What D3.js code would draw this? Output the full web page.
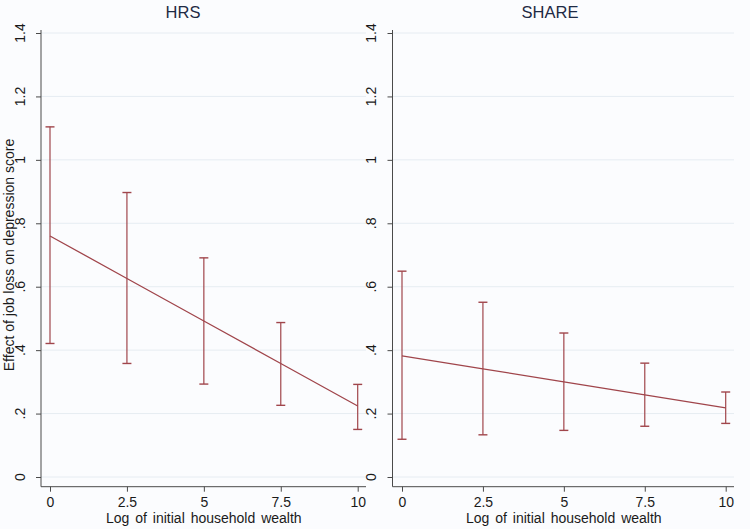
<!DOCTYPE html>
<html><head><meta charset="utf-8">
<script src="https://cdn.jsdelivr.net/npm/d3@7/dist/d3.min.js"></script>
<style>body{margin:0;background:#fbfcfe;}svg{display:block;font-family:"Liberation Sans",Arial,sans-serif;}</style>
</head><body>
<svg id="c" width="750" height="529"></svg>
<script>
const wealth = [0, 2.5, 5, 7.5, 10];
const xTicks = [0, 2.5, 5, 7.5, 10];
const yTicks = [0, 0.2, 0.4, 0.6, 0.8, 1.0, 1.2, 1.4];
const hrsEst = [0.760, 0.626, 0.492, 0.358, 0.224];
const hrsHi  = [1.104, 0.897, 0.691, 0.487, 0.292];
const hrsLo  = [0.421, 0.358, 0.293, 0.226, 0.150];
const shareEst = [0.382, 0.341, 0.300, 0.259, 0.218];
const shareHi  = [0.649, 0.551, 0.454, 0.359, 0.268];
const shareLo  = [0.119, 0.133, 0.147, 0.160, 0.169];
const panelTitles = ["HRS", "SHARE"];
const yTitle = "Effect of job loss on depression score";
const xTitle = "Log of initial household wealth";

const svg = d3.select("#c");
const col = "#a0454b";
const panels = [
  {title: panelTitles[0], est: hrsEst, hi: hrsHi, lo: hrsLo, axisX: 41, x0: 50, x1: 357.7, right: 366, labX: 25, tx: 183},
  {title: panelTitles[1], est: shareEst, hi: shareHi, lo: shareLo, axisX: 392.5, x0: 402, x1: 725.7, right: 734, labX: 376, tx: 550}
];
const y = d3.scaleLinear().domain([0, 1.4]).range([477, 33]);
const fmt = v => v === 0 ? "0" : (v < 1 ? d3.format(".1f")(v).replace(/^0/, "") : d3.format(".1f")(v).replace(/\.0$/, ""));

panels.forEach(p => {
  const x = d3.scaleLinear().domain([0, 10]).range([p.x0, p.x1]);
  const g = svg.append("g");
  g.selectAll(".grid").data(yTicks).join("line")
    .attr("x1", p.axisX).attr("x2", p.right)
    .attr("y1", d => y(d)).attr("y2", d => y(d))
    .attr("stroke", "#e6ecf2").attr("stroke-width", 1);
  const ya = d3.axisLeft(y).tickValues(yTicks).tickSize(5).tickFormat("");
  const yg = g.append("g").attr("transform", `translate(${p.axisX},0)`).call(ya);
  yg.select(".domain").attr("stroke", "#4a4a4a").attr("d", `M0,${y(0)+9.7}V${y(1.4)-3}`);
  yg.selectAll(".tick line").attr("stroke", "#4a4a4a");
  g.selectAll(".ylab").data(yTicks).join("text")
    .attr("transform", d => `translate(${p.labX},${y(d)}) rotate(-90)`)
    .attr("text-anchor", "middle").attr("font-size", 14).attr("fill", "#1a1a1a")
    .text(fmt);
  const xa = d3.axisBottom(x).tickValues(xTicks).tickSize(5).tickPadding(5).tickFormat(d3.format("~g"));
  const xg = g.append("g").attr("transform", `translate(0,486.7)`).call(xa);
  xg.select(".domain").attr("stroke", "#4a4a4a").attr("d", `M${p.axisX},0H${p.right}`);
  xg.selectAll(".tick line").attr("stroke", "#4a4a4a");
  xg.selectAll(".tick text").attr("font-size", 14).attr("fill", "#1a1a1a")
    .style("font-family", '"Liberation Sans",Arial,sans-serif');
  g.append("text").attr("x", (p.x0 + p.x1) / 2).attr("y", 523)
    .attr("text-anchor", "middle").attr("font-size", 14).attr("word-spacing", 2).attr("fill", "#1a1a1a").text(xTitle);
  g.append("text").attr("x", p.tx).attr("y", 18)
    .attr("text-anchor", "middle").attr("font-size", 16.5).attr("fill", "#1e2a44").text(p.title);
  const cap = 4.5;
  wealth.forEach((w, i) => {
    g.append("line").attr("x1", x(w)).attr("x2", x(w)).attr("y1", y(p.hi[i])).attr("y2", y(p.lo[i]))
      .attr("stroke", col).attr("stroke-width", 1.2);
    [p.hi[i], p.lo[i]].forEach(v => {
      g.append("line").attr("x1", x(w) - cap).attr("x2", x(w) + cap).attr("y1", y(v)).attr("y2", y(v))
        .attr("stroke", col).attr("stroke-width", 1.4);
    });
  });
  const line = d3.line().x((d, i) => x(wealth[i])).y(d => y(d));
  g.append("path").datum(p.est).attr("d", line).attr("fill", "none").attr("stroke", col).attr("stroke-width", 1.3);
});
svg.append("text").attr("transform", `translate(14,255) rotate(-90)`)
  .attr("text-anchor", "middle").attr("font-size", 14).attr("fill", "#1a1a1a").text(yTitle);
</script>
</body></html>
